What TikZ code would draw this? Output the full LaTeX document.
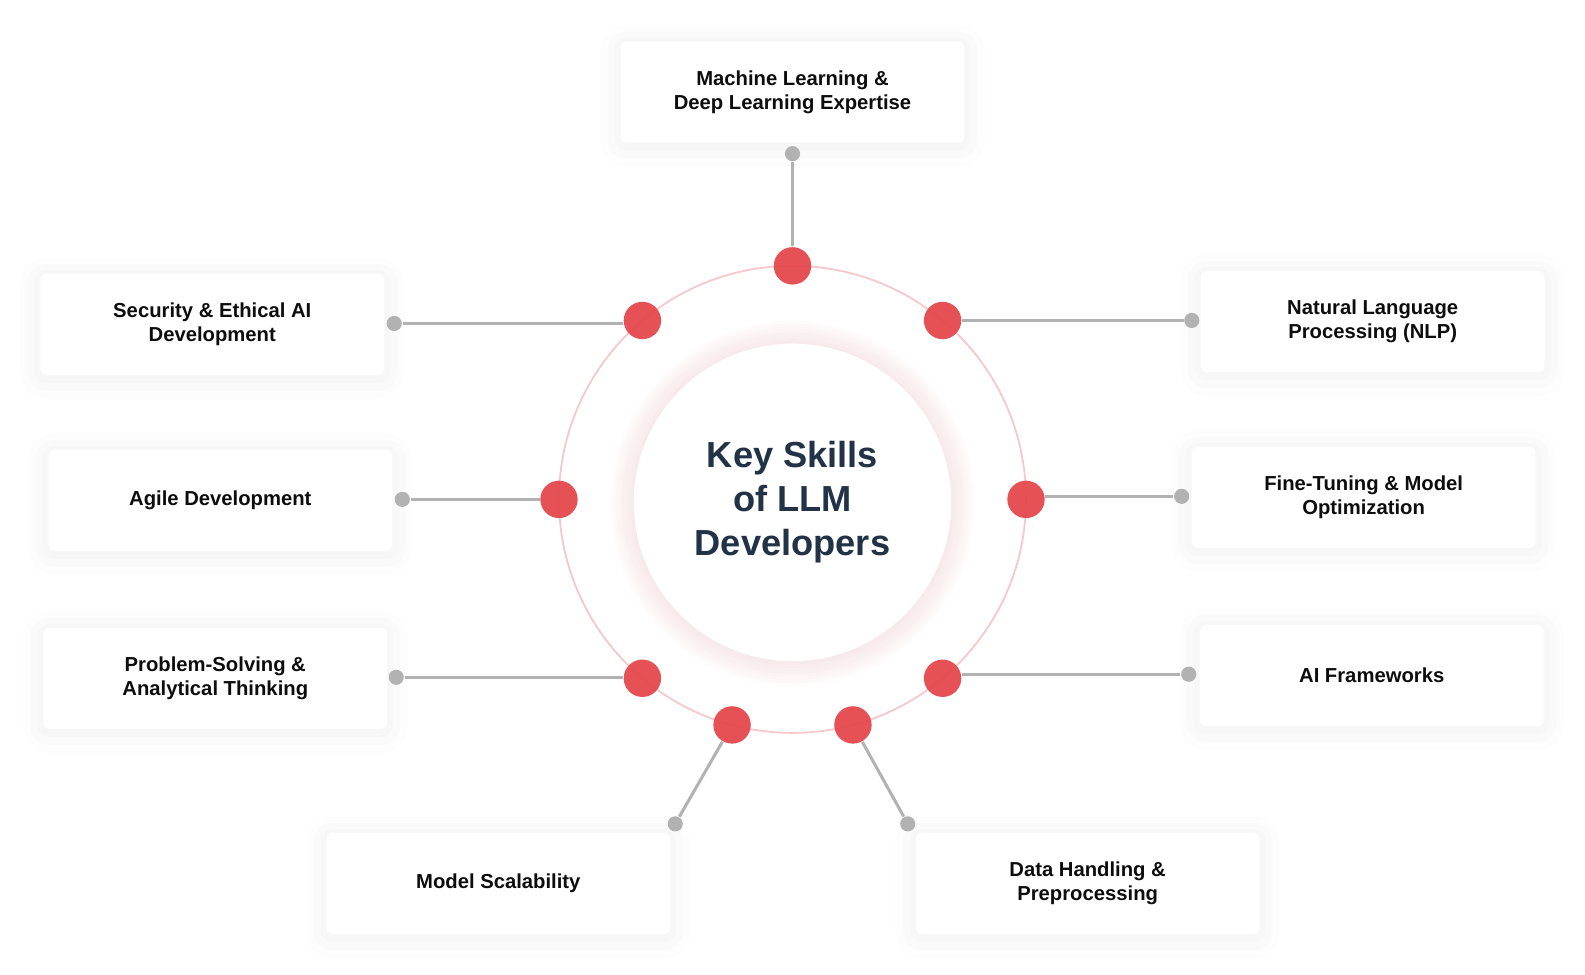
\documentclass[tikz,border=0pt]{standalone}
\usepackage{fontspec}
\setmainfont{Liberation Sans}
\usepackage{tikz}
\usetikzlibrary{positioning}
\usetikzlibrary{shapes.geometric}
\definecolor{dotred}{RGB}{229,72,77}
\definecolor{ringpink}{RGB}{246,200,202}
\definecolor{linegray}{RGB}{178,178,178}
\definecolor{titlenavy}{RGB}{34,51,71}
\tikzstyle{skill} = [rectangle, rounded corners=0.06cm, minimum width=3.4cm, minimum height=1cm, fill=white, align=center, text=black!95, font=\bfseries\fontsize{5.7}{6.8}\selectfont,
  preaction={draw=black, draw opacity=0.008, line width=0.40cm, transform canvas={yshift=-0.04cm}},
  preaction={draw=black, draw opacity=0.01, line width=0.26cm, transform canvas={yshift=-0.03cm}},
  preaction={draw=black, draw opacity=0.012, line width=0.12cm, transform canvas={yshift=-0.02cm}}]
\tikzstyle{reddot} = [circle, fill=dotred, fill opacity=0.95, minimum size=0.37cm, inner sep=0pt]
\tikzstyle{graydot} = [circle, fill=linegray, minimum size=0.15cm, inner sep=0pt]
\tikzstyle{wire} = [linegray, line width=0.85pt]

\begin{document}
\begin{tikzpicture}
      \fill[white] (-7.84,-4.696) rectangle (7.84,4.94);
      \useasboundingbox (-7.84,-4.696) rectangle (7.84,4.94);
      % ring and centre
      \foreach \r in {1.60,1.63,...,1.81}
        \fill[dotred, opacity=0.011] (0,-0.04) circle (\r);
      \draw[ringpink, line width=0.5pt] (0,0) circle (2.31);
      \node[circle, fill=white, minimum size=3.14cm, inner sep=0pt, align=center, text=titlenavy, font=\bfseries\fontsize{10.2}{12.4}\selectfont] (core) at (0,-0.03) {Key Skills\\of LLM\\Developers};
      % skill boxes
      \node[skill] (mldl) at (0,4.03) {Machine Learning \&\\Deep Learning Expertise};
      \node[skill] (nlp) at (5.74,1.76) {Natural Language\\Processing (NLP)};
      \node[skill] (tune) at (5.65,0.02) {Fine-Tuning \& Model\\Optimization};
      \node[skill] (frame) at (5.73,-1.74) {AI Frameworks};
      \node[skill] (data) at (2.92,-3.80) {Data Handling \&\\Preprocessing};
      \node[skill] (scale) at (-2.91,-3.80) {Model Scalability};
      \node[skill] (prob) at (-5.71,-1.77) {Problem-Solving \&\\Analytical Thinking};
      \node[skill] (agile) at (-5.66,-0.01) {Agile Development};
      \node[skill] (secu) at (-5.74,1.73) {Security \& Ethical AI\\Development};
      % dots on the ring
      \node[reddot] (mldl-r) at (90:2.31) {};
      \node[reddot] (nlp-r) at (50:2.31) {};
      \node[reddot] (tune-r) at (0:2.31) {};
      \node[reddot] (frame-r) at (-50:2.31) {};
      \node[reddot] (data-r) at (-75:2.31) {};
      \node[reddot] (scale-r) at (-105:2.31) {};
      \node[reddot] (prob-r) at (230:2.31) {};
      \node[reddot] (agile-r) at (180:2.31) {};
      \node[reddot] (secu-r) at (130:2.31) {};
      % end dots
      \node[graydot] (mldl-g) at (0,3.42) {};
      \node[graydot] (nlp-g) at (3.95,1.77) {};
      \node[graydot] (tune-g) at (3.85,0.03) {};
      \node[graydot] (frame-g) at (3.92,-1.73) {};
      \node[graydot] (data-g) at (1.14,-3.21) {};
      \node[graydot] (scale-g) at (-1.16,-3.21) {};
      \node[graydot] (prob-g) at (-3.92,-1.76) {};
      \node[graydot] (agile-g) at (-3.86,0) {};
      \node[graydot] (secu-g) at (-3.94,1.74) {};
      \draw[wire] (mldl-g)--(mldl-r);
      \draw[wire] (nlp-g)--(nlp-g -| nlp-r.east);
      \draw[wire] (tune-g)--(tune-g -| tune-r.east);
      \draw[wire] (frame-g)--(frame-g -| frame-r.east);
      \draw[wire] (data-g)--(data-r);
      \draw[wire] (scale-g)--(scale-r);
      \draw[wire] (prob-g)--(prob-g -| prob-r.west);
      \draw[wire] (agile-g)--(agile-g -| agile-r.west);
      \draw[wire] (secu-g)--(secu-g -| secu-r.west);
\end{tikzpicture}
\end{document}
